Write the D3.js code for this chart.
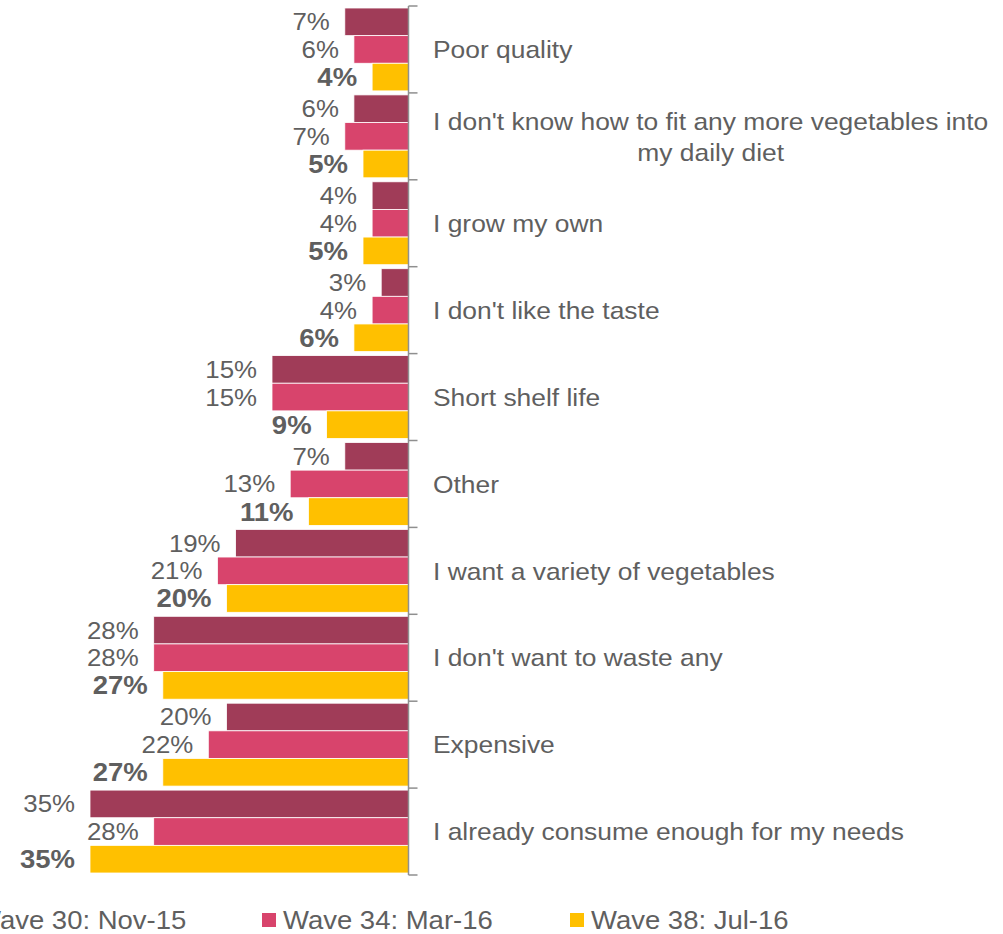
<!DOCTYPE html>
<html>
<head>
<meta charset="utf-8">
<script src="https://cdn.jsdelivr.net/npm/d3@7"></script>
<style>
  html, body { margin: 0; padding: 0; background: #fff; }
  svg { display: block; font-family: "Liberation Sans", Arial, sans-serif; }
</style>
</head>
<body>
<svg id="chart" width="1003" height="934"></svg>
<script>
// Reasons given, top to bottom
const categories = [
  "Poor quality",
  "I don't know how to fit any more vegetables into my daily diet",
  "I grow my own",
  "I don't like the taste",
  "Short shelf life",
  "Other",
  "I want a variety of vegetables",
  "I don't want to waste any",
  "Expensive",
  "I already consume enough for my needs"
];

const seriesNames = ["Wave 30: Nov-15", "Wave 34: Mar-16", "Wave 38: Jul-16"];

// Percentages per wave, in category order
const wave30 = [7, 6, 4, 3, 15, 7, 19, 28, 20, 35];
const wave34 = [6, 7, 4, 4, 15, 13, 21, 28, 22, 28];
const wave38 = [4, 5, 5, 6, 9, 11, 20, 27, 27, 35];

const seriesValues = [wave30, wave34, wave38];
const colors = ["#A03C58", "#D8446C", "#FFC000"];
const textColor = "#5f5f5f";
const SX = 1.1; // horizontal text stretch

const svg = d3.select("#chart");

const axisX = 408.5;
const x = d3.scaleLinear().domain([0, 35]).range([axisX, 90]);
const y = d3.scaleBand().domain(categories).range([6, 875]).paddingInner(0).paddingOuter(0);
const ySeries = d3.scaleBand().domain(d3.range(seriesNames.length)).range([2, y.bandwidth() - 2]);

function placeText(sel, tx, ty) {
  return sel.attr("transform", `translate(${tx},${ty}) scale(${SX},1)`);
}

// Bars and value labels
const rows = categories.map((c, i) => ({ cat: c, vals: seriesValues.map(s => s[i]) }));

const groups = svg.append("g").selectAll("g.row")
  .data(rows).join("g")
  .attr("class", "row")
  .attr("transform", d => `translate(0,${y(d.cat)})`);

groups.selectAll("rect")
  .data(d => d.vals.map((v, k) => ({ v, k })))
  .join("rect")
  .attr("x", d => x(d.v))
  .attr("y", d => ySeries(d.k))
  .attr("width", d => x(0) - x(d.v))
  .attr("height", ySeries.bandwidth())
  .attr("fill", d => colors[d.k])
  .attr("stroke", "#fff")
  .attr("stroke-width", 0.8);

groups.selectAll("text.val")
  .data(d => d.vals.map((v, k) => ({ v, k })))
  .join("text")
  .attr("class", "val")
  .attr("text-anchor", "end")
  .attr("dy", "0.36em")
  .attr("font-size", d => d.k === 2 ? 25 : 23.5)
  .attr("font-weight", d => d.k === 2 ? "bold" : "normal")
  .attr("fill", textColor)
  .text(d => d.v + "%")
  .each(function(d) {
    placeText(d3.select(this), x(d.v) - 15, ySeries(d.k) + ySeries.bandwidth() / 2);
  });

// Axis line with ticks at category boundaries
const axis = svg.append("g").attr("stroke", "#8f8f8f").attr("stroke-width", 1.5).attr("fill", "none");
axis.append("line").attr("x1", axisX).attr("x2", axisX).attr("y1", y.range()[0]).attr("y2", y.range()[1]);
const bounds = categories.map(c => y(c)).concat([y.range()[1]]);
axis.selectAll("line.tick").data(bounds).join("line")
  .attr("class", "tick")
  .attr("x1", axisX).attr("x2", axisX + 9)
  .attr("y1", d => d).attr("y2", d => d);

// Category labels, wrapped and centred within their block
const labelX = 433;
const maxW = 575 / SX;
const lineH = 31;

categories.forEach(cat => {
  const g = svg.append("g");
  const probe = g.append("text").attr("font-size", 24);
  const words = cat.split(" ");
  const lines = [];
  let cur = [];
  words.forEach(w => {
    const test = cur.concat([w]).join(" ");
    probe.text(test);
    if (probe.node().getComputedTextLength() > maxW && cur.length) {
      lines.push(cur.join(" "));
      cur = [w];
    } else {
      cur.push(w);
    }
  });
  lines.push(cur.join(" "));
  const widths = lines.map(l => { probe.text(l); return probe.node().getComputedTextLength(); });
  probe.remove();
  const blockW = d3.max(widths) * SX;
  const cy = y(cat) + y.bandwidth() / 2;
  lines.forEach((l, j) => {
    const ly = cy + (j - (lines.length - 1) / 2) * lineH;
    const t = g.append("text")
      .attr("font-size", 24)
      .attr("fill", textColor)
      .attr("dy", "0.36em")
      .attr("text-anchor", lines.length > 1 ? "middle" : "start")
      .text(l);
    placeText(t, lines.length > 1 ? labelX + blockW / 2 : labelX, ly);
  });
});

// Legend
const legendX = d3.scaleOrdinal().domain(seriesNames).range([-46, 262, 570]);
const legend = svg.append("g").selectAll("g").data(seriesNames).join("g")
  .attr("transform", d => `translate(${legendX(d)},920)`);
legend.append("rect")
  .attr("x", 0).attr("y", -7).attr("width", 14).attr("height", 14)
  .attr("fill", (d, i) => colors[i]);
legend.append("text")
  .attr("font-size", 25)
  .attr("fill", textColor)
  .attr("dy", "0.36em")
  .text(d => d)
  .each(function() { placeText(d3.select(this), 21, 0); });
</script>
</body>
</html>
